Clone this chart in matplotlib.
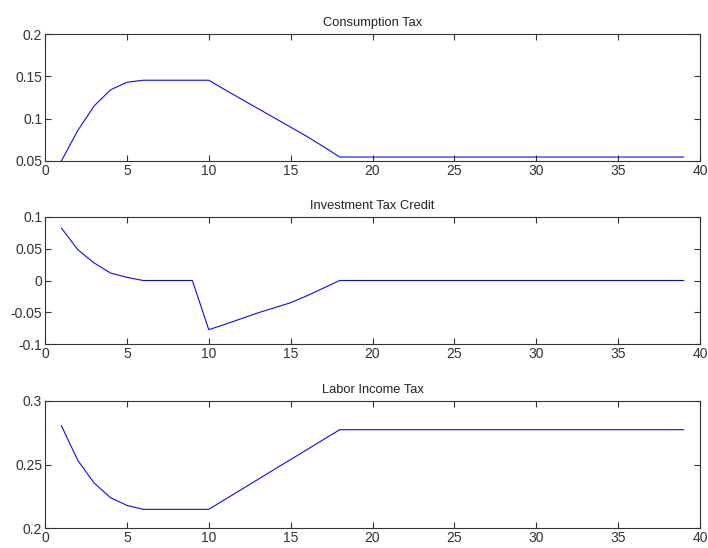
import numpy as np
import matplotlib
matplotlib.use("Agg")
import matplotlib.pyplot as plt

plt.rcParams['font.family'] = ['Liberation Sans', 'DejaVu Sans']

# periods 1..39
periodos = np.arange(1, 40)

# consumption tax path
consumo = [0.050, 0.086, 0.115, 0.134, 0.143, 0.1454, 0.1454, 0.1454, 0.1454, 0.1454,
           0.134, 0.123, 0.112, 0.101, 0.090, 0.079, 0.067, 0.0547] + [0.0547] * 21

# investment tax credit path
inversion = [0.0827, 0.0486, 0.0276, 0.0118, 0.005, 0.0, 0.0, 0.0, 0.0, -0.0774,
             -0.069, -0.060, -0.051, -0.043, -0.035, -0.024, -0.012, 0.0] + [0.0] * 21

# labor income tax path
trabajo = [0.2806, 0.2533, 0.2354, 0.2239, 0.2178, 0.2147, 0.2147, 0.2147, 0.2147, 0.2147,
           0.2225, 0.2304, 0.2382, 0.2461, 0.2539, 0.2617, 0.2696, 0.2774] + [0.2774] * 21

titulos = ["Consumption Tax", "Investment Tax Credit", "Labor Income Tax"]
series = [consumo, inversion, trabajo]
limites_y = [(0.05, 0.2), (-0.1, 0.1), (0.2, 0.3)]
ticks_y = [[0.05, 0.1, 0.15, 0.2], [-0.1, -0.05, 0, 0.05, 0.1], [0.2, 0.25, 0.3]]
etiquetas_y = [["0.05", "0.1", "0.15", "0.2"], ["-0.1", "-0.05", "0", "0.05", "0.1"],
               ["0.2", "0.25", "0.3"]]

fig = plt.figure(figsize=(7.08, 5.48), dpi=100)

# axes boxes in figure pixels: top, bottom
cajas = [(34, 161), (217, 344), (401, 528)]
izq, der = 45, 700
W, H = 708, 548

for i in range(3):
    top, bot = cajas[i]
    ax = fig.add_axes([izq / W, 1 - bot / H, (der - izq) / W, (bot - top) / H])
    ax.plot(periodos, series[i], color=(0.05, 0.05, 0.9), linewidth=0.8)
    ax.set_xlim(0, 40)
    ax.set_ylim(*limites_y[i])
    ax.set_xticks(range(0, 41, 5))
    ax.set_yticks(ticks_y[i])
    ax.set_yticklabels(etiquetas_y[i])
    ax.tick_params(direction='in', top=True, right=True, length=4, width=0.8,
                   labelsize=10, colors='#333333', pad=2)
    for s in ax.spines.values():
        s.set_color('#333333')
        s.set_linewidth(0.8)
    ax.set_title(titulos[i], fontsize=9.3, pad=6, color='#222222')

fig.savefig("out.png", dpi=100)
